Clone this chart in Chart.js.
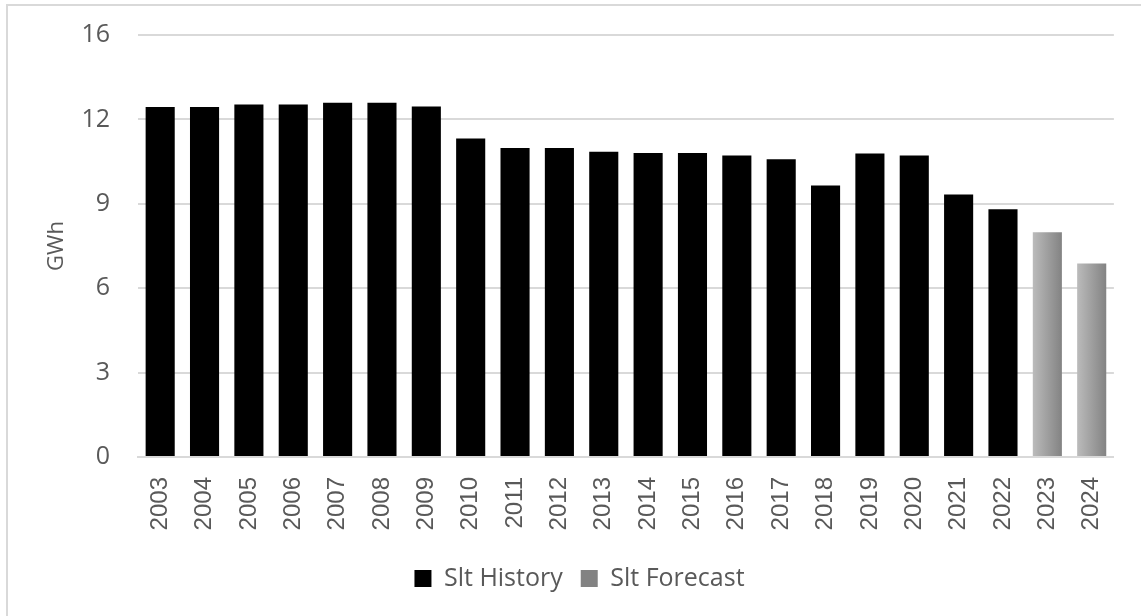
<!DOCTYPE html>
<html>
<head>
<meta charset="utf-8">
<script src="https://cdn.jsdelivr.net/npm/chart.js@4"></script>
<style>
  html, body { margin: 0; padding: 0; background: #fff; }
  #wrap { position: absolute; left: 0; top: 0; width: 1141px; height: 616px; }
</style>
</head>
<body>
<div id="wrap"><canvas id="canvas"></canvas></div>
<script>
const years = ['2003', '2004', '2005', '2006', '2007', '2008', '2009', '2010', '2011', '2012', '2013',
    '2014', '2015', '2016', '2017', '2018', '2019', '2020', '2021', '2022', '2023', '2024'];
const history = [12.44, 12.44, 12.53, 12.53, 12.59, 12.59, 12.46, 11.32, 10.98, 10.98, 10.85,
    10.81, 10.81, 10.72, 10.58, 9.65, 10.79, 10.72, 9.33, 8.81, null, null];
const forecast = [null, null, null, null, null, null, null, null, null, null, null,
    null, null, null, null, null, null, null, null, null, 7.99, 6.88];
const yTickLabels = ['0', '3', '6', '9', '12', '16'];

const grey = '#595959';

// shaded fill for the forecast bars, light on the left, darker on the right
function forecastFill(c) {
    const chart = c.chart;
    if (c.type !== 'data' || !chart.chartArea) return '#a6a6a6';
    const x = chart.scales.x.getPixelForValue(c.dataIndex);
    const g = chart.ctx.createLinearGradient(x - 15, 0, x + 15, 0);
    g.addColorStop(0, '#bcbcbc');
    g.addColorStop(1, '#828282');
    return g;
}

// thin frame along the top and left edges
const frame = {
    id: 'frame',
    beforeDraw(chart) {
        const ctx = chart.ctx;
        ctx.save();
        ctx.strokeStyle = '#d9d9d9';
        ctx.lineWidth = 2;
        ctx.beginPath();
        ctx.moveTo(7, 700);
        ctx.lineTo(7, 5);
        ctx.lineTo(1200, 5);
        ctx.stroke();
        ctx.restore();
    }
};

new Chart(document.getElementById('canvas'), {
    type: 'bar',
    data: {
        labels: years,
        datasets: [{
            label: 'Slt History',
            data: history,
            backgroundColor: '#000000',
            categoryPercentage: 0.8,
            barPercentage: 0.82
        },
        {
            label: 'Slt Forecast',
            data: forecast,
            backgroundColor: forecastFill,
            categoryPercentage: 0.8,
            barPercentage: 0.82
        }]
    },
    plugins: [frame],
    options: {
        responsive: true,
        maintainAspectRatio: false,
        animation: false,
        layout: {
            padding: { left: 40, right: 22, top: 35, bottom: 15 }
        },
        plugins: {
            tooltip: { enabled: false },
            legend: {
                position: 'bottom',
                labels: {
                    color: grey,
                    boxWidth: 17,
                    boxHeight: 17,
                    padding: 18,
                    font: { family: 'Open Sans', size: 25 }
                }
            }
        },
        scales: {
            x: {
                stacked: true,
                grid: { display: false, drawTicks: false },
                border: { color: '#d9d9d9', width: 2 },
                ticks: {
                    color: grey,
                    minRotation: 90,
                    maxRotation: 90,
                    padding: 20,
                    font: { family: 'Liberation Sans', size: 24 }
                },
                afterFit(scale) { scale.height = 91; }
            },
            y: {
                stacked: true,
                min: 0,
                max: 15,
                ticks: {
                    stepSize: 3,
                    color: grey,
                    padding: 28,
                    font: { family: 'Open Sans', size: 25 },
                    callback: (v, i) => yTickLabels[i]
                },
                grid: { color: '#d9d9d9', lineWidth: 2, drawTicks: false },
                border: { display: false },
                title: {
                    display: true,
                    text: 'GWh',
                    color: grey,
                    font: { family: 'Open Sans', size: 22 },
                    padding: { top: 4, bottom: 0 }
                },
                afterFit(scale) {
                    scale.width = 98;
                    scale.paddingTop = 0;
                    scale.paddingBottom = 0;
                }
            }
        }
    }
});
</script>
</body>
</html>
